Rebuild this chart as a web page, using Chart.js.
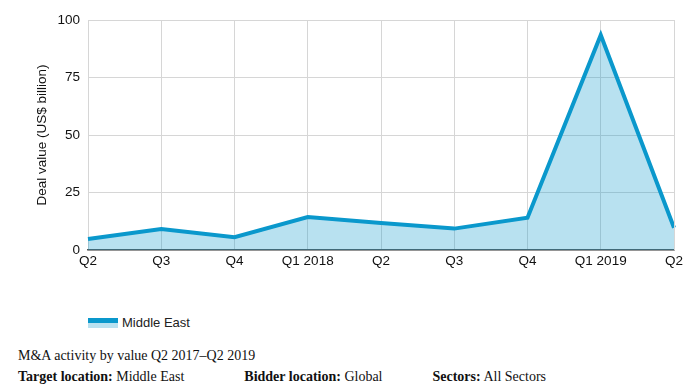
<!DOCTYPE html>
<html>
<head>
<meta charset="utf-8">
<script src="https://cdn.jsdelivr.net/npm/chart.js@4"></script>
<style>
    body { margin: 0; background: #fff; width: 700px; height: 392px; overflow: hidden; }
    .chart-wrap { position: absolute; left: 0; top: 0; width: 700px; height: 270px; }
    .legend { position: absolute; left: 88px; top: 315px; font: 13px "Liberation Sans", Arial, sans-serif; color: #222; }
    .legend .swatch { display: inline-block; width: 30px; height: 10px; vertical-align: middle; margin-right: 4px; position: relative; top: -1px;
        background: linear-gradient(#0a98cc 0 5px, #b9e1f0 5px 10px); }
    .caption { position: absolute; left: 18px; top: 345px; font: 14px "Liberation Serif", "Times New Roman", serif; color: #111; line-height: 21px; }
    .caption span.gap1 { display: inline-block; width: 60px; }
    .caption span.gap2 { display: inline-block; width: 50px; }
</style>
</head>
<body>
<div class="chart-wrap"><canvas id="maChart" width="700" height="270"></canvas></div>
<div class="legend"><span class="swatch"></span>Middle East</div>
<div class="caption">
    M&amp;A activity by value Q2 2017–Q2 2019<br>
    <b>Target location:</b> Middle East<span class="gap1"></span><b>Bidder location:</b> Global<span class="gap2"></span><b>Sectors:</b> All Sectors
</div>
<script>
const quarters = ['Q2', 'Q3', 'Q4', 'Q1 2018', 'Q2', 'Q3', 'Q4', 'Q1 2019', 'Q2'];
const middleEast = [4.8, 9.1, 5.6, 14.3, 11.7, 9.3, 14.0, 93.5, 9.7];
const yTicks = [0, 25, 50, 75, 100];

document.addEventListener('DOMContentLoaded', () => {
    const ctx = document.getElementById('maChart').getContext('2d');
    new Chart(ctx, {
        type: 'line',
        data: {
            labels: quarters,
            datasets: [{
                label: 'Middle East',
                data: middleEast,
                borderColor: '#0a98cc',
                backgroundColor: 'rgba(20, 155, 205, 0.3)',
                borderWidth: 4,
                fill: 'origin',
                tension: 0,
                pointRadius: 0
            }]
        },
        options: {
            responsive: false,
            animation: false,
            layout: { padding: { top: 20, right: 26, left: 34, bottom: 0 } },
            plugins: { legend: { display: false }, tooltip: { enabled: false } },
            scales: {
                x: {
                    offset: false,
                    grid: { color: '#d6d6d6', lineWidth: 1, drawTicks: false },
                    border: { color: '#555', width: 1.5 },
                    ticks: { color: '#111', font: { family: 'Liberation Sans', size: 13.5 }, padding: 3, maxRotation: 0, autoSkip: false },
                    afterFit: (scale) => { scale.height = 20; }
                },
                y: {
                    min: 0,
                    max: 100,
                    afterBuildTicks: (scale) => { scale.ticks = yTicks.map(v => ({ value: v })); },
                    grid: { color: '#d6d6d6', lineWidth: 1, drawTicks: false },
                    border: { display: false },
                    ticks: { color: '#111', font: { family: 'Liberation Sans', size: 13.5 }, padding: 8 },
                    title: { display: true, text: 'Deal value (US$ billion)', color: '#111', font: { family: 'Liberation Sans', size: 13.5 }, padding: { top: 0, bottom: 0 } },
                    afterFit: (scale) => { scale.width = 54; }
                }
            }
        },
        plugins: [{
            id: 'rightEdge',
            afterDraw(chart) {
                const { ctx, chartArea } = chart;
                ctx.save();
                ctx.strokeStyle = '#d6d6d6';
                ctx.lineWidth = 1;
                ctx.beginPath();
                ctx.moveTo(chartArea.right + 0.5, chartArea.top);
                ctx.lineTo(chartArea.right + 0.5, chartArea.bottom);
                ctx.stroke();
                ctx.restore();
            }
        }]
    });
});
</script>
</body>
</html>
